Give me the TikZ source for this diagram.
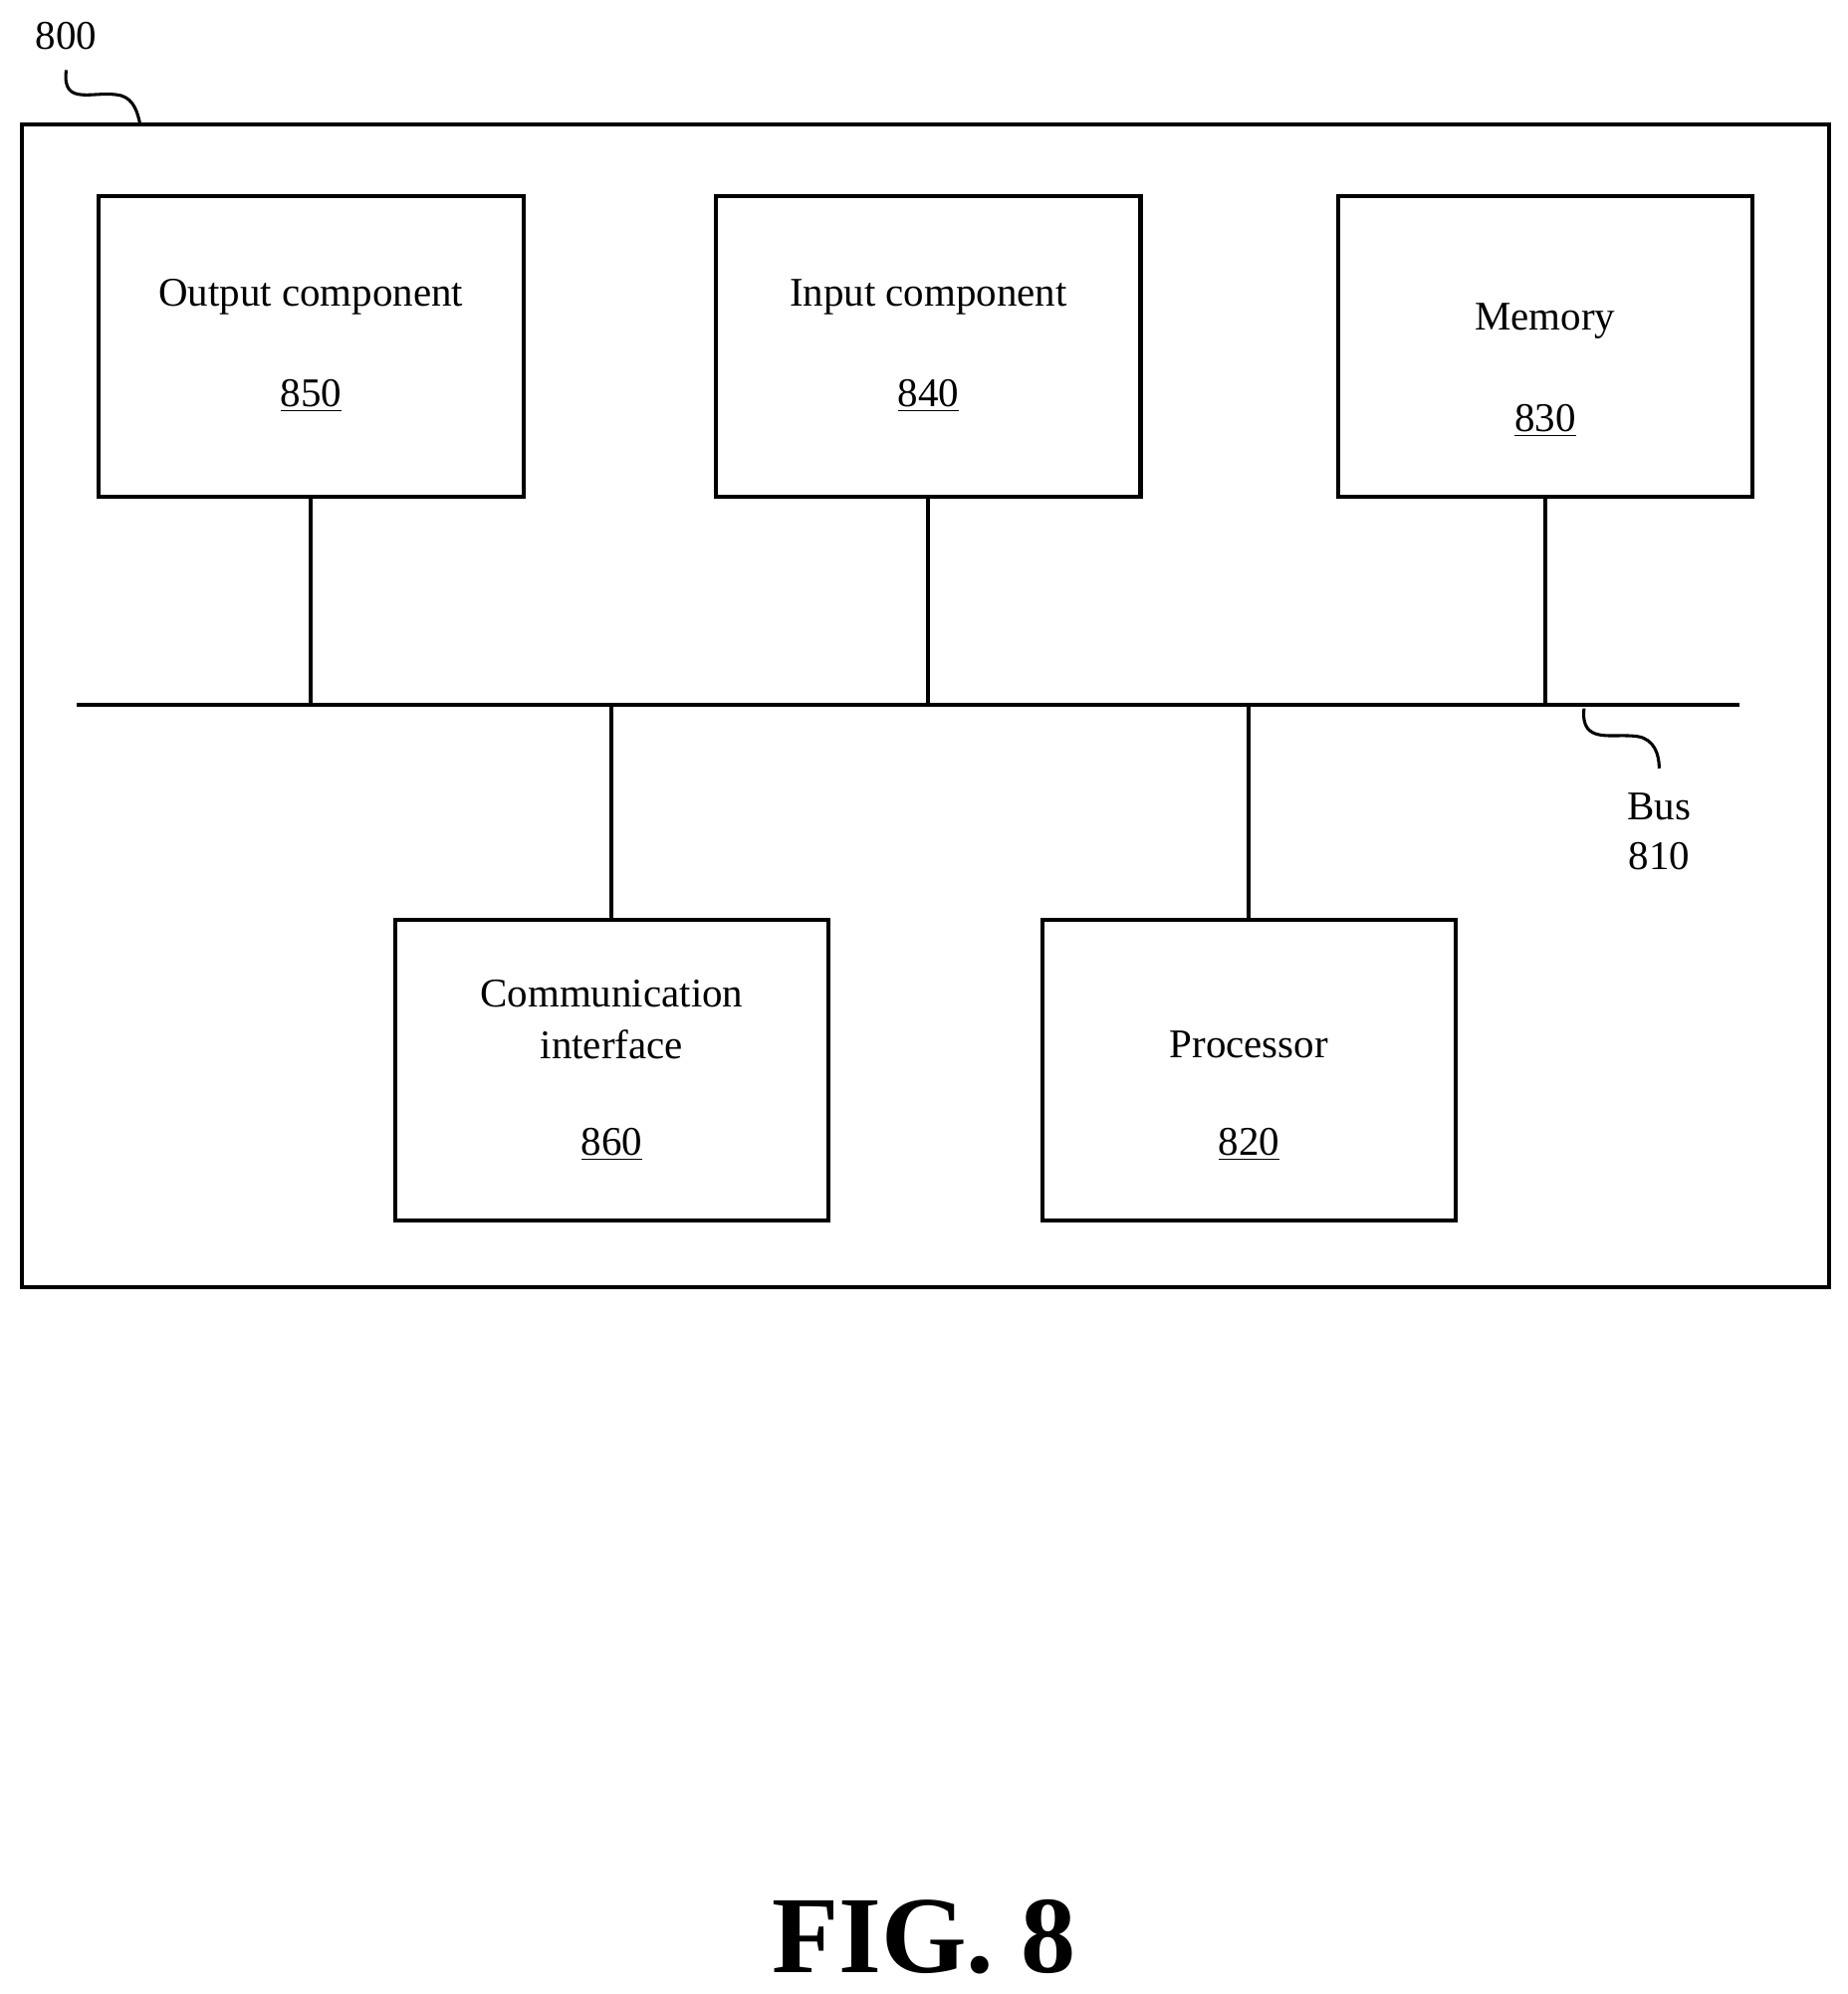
\documentclass[tikz,border=0pt]{standalone}
\usepackage{fontspec}
\setmainfont{Liberation Serif}
\begin{document}
\begin{tikzpicture}[x=0.5pt,y=-0.5pt,
  box/.style={draw,line width=1.6pt,inner sep=0pt},
  ln/.style={line width=1.6pt},
  txt/.style={font=\fontsize{16}{19}\selectfont,inner sep=0pt}]
\useasboundingbox (0,0) rectangle (1450,1565);
\draw[ln] (17,98) rectangle (1435,1010);
\node[txt] (l800) at (52,28) {800};
\draw[line width=1.2pt] (52,55) .. controls (48,85) and (75,70) .. (95,75) .. controls (105,78) and (108,88) .. (110,98);
% boxes
\node[box,minimum width=334pt*0.5,minimum height=236pt*0.5] (o) at (244,272) {};
\node[box,minimum width=333pt*0.5,minimum height=236pt*0.5] (i) at (728.5,272) {};
\node[box,minimum width=325pt*0.5,minimum height=236pt*0.5] (m) at (1212.5,272) {};
\node[box,minimum width=340pt*0.5,minimum height=236pt*0.5] (c) at (480,840) {};
\node[box,minimum width=324pt*0.5,minimum height=236pt*0.5] (p) at (980,840) {};
\node[txt] at (244,233) {Output component};
\node[txt] at (244,311) {\underline{850}};
\node[txt] at (728.5,233) {Input component};
\node[txt] at (728.5,311) {\underline{840}};
\node[txt] at (1212.5,252) {Memory};
\node[txt] at (1212.5,330) {\underline{830}};
\node[txt] at (480,780) {Communication};
\node[txt] at (480,820) {interface};
\node[txt] at (480,898) {\underline{860}};
\node[txt] at (980,820) {Processor};
\node[txt] at (980,898) {\underline{820}};
% bus
\coordinate (bl) at (60,553); \coordinate (br) at (1365,553);
\draw[ln] (bl) -- (br);
\draw[ln] (o.south) -- (o.south |- bl);
\draw[ln] (i.south) -- (i.south |- bl);
\draw[ln] (m.south) -- (m.south |- bl);
\draw[ln] (c.north) -- (c.north |- bl);
\draw[ln] (p.north) -- (p.north |- bl);
\draw[line width=1.2pt] (1243,556) .. controls (1240,585) and (1265,575) .. (1285,578) .. controls (1298,580) and (1302,592) .. (1302,603);
\node[txt] (bus) at (1302,633) {Bus};
\node[txt] at (1302,672) {810};
\node[font=\fontsize{43}{50}\selectfont\bfseries,inner sep=0pt] at (725,1520) {FIG. 8};
\end{tikzpicture}
\end{document}
